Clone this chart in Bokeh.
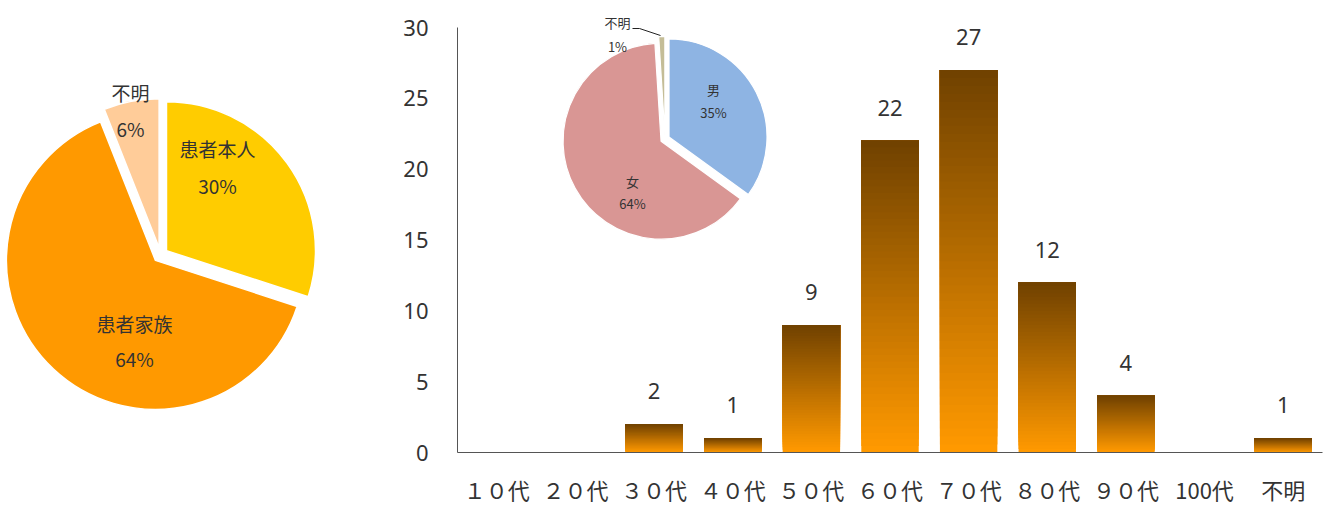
import math

from bokeh.core.properties import value
from bokeh.embed import file_html
from bokeh.layouts import row
from bokeh.models import FixedTicker, Label, Range1d
from bokeh.plotting import figure
from bokeh.resources import INLINE

# 相談者の内訳 (%)
caller_labels = ["患者本人", "患者家族", "不明"]
caller_pct = [30, 64, 6]
caller_colors = ["#FFCC00", "#FF9900", "#FFCC99"]

# 患者の性別 (%)
sex_labels = ["男", "女", "不明"]
sex_pct = [35, 64, 1]
sex_colors = ["#8EB4E3", "#D99694", "#C4BD97"]

# 年代別の人数
age_groups = ["１０代", "２０代", "３０代", "４０代", "５０代", "６０代",
              "７０代", "８０代", "９０代", "100代", "不明"]
age_counts = [0, 0, 2, 1, 9, 22, 27, 12, 4, 0, 1]
y_ticks = [0, 5, 10, 15, 20, 25, 30]
Y_MAX = 30

W, H = 1330, 507
PIE_W = 400
FRAME_TOP, AXIS_TOP, FRAME_BOTTOM = 8, 27, 452
CJK = "Noto Sans CJK JP"
TEXT_COLOR = "#333333"


def pie_wedges(pcts, cx, cy, explode):
    """Clockwise from 12 o'clock, every slice pulled out along its mid angle."""
    total = float(sum(pcts))
    start = math.pi / 2
    xs, ys, a0, a1 = [], [], [], []
    for v in pcts:
        end = start - 2 * math.pi * v / total
        mid = (start + end) / 2
        xs.append(cx + explode * math.cos(mid))
        ys.append(cy + explode * math.sin(mid))
        a0.append(end)
        a1.append(start)
        start = end
    return dict(x=xs, y=ys, start_angle=a0, end_angle=a1)


def gradient(t):
    """Orange at the bottom of a bar (t=0) to dark brown at its top (t=1)."""
    lo = (0xFF, 0x99, 0x00)
    hi = (0x6E, 0x40, 0x00)
    return "#%02x%02x%02x" % tuple(round(a + (b - a) * t) for a, b in zip(lo, hi))


def add_label(p, x, y, text, size, **kw):
    p.add_layout(Label(x=x, y=H - y, text=text, text_font=CJK, text_font_size=size,
                       text_align="center", text_baseline="middle",
                       text_color=TEXT_COLOR, **kw))


# ---------------- left: 相談者の内訳 ----------------
pie = figure(width=PIE_W, height=H, x_range=Range1d(0, PIE_W),
             y_range=Range1d(H - FRAME_BOTTOM, H - FRAME_TOP),
             x_axis_type=None, y_axis_type=None, output_backend="svg",
             toolbar_location=None, min_border_left=0, min_border_right=0,
             min_border_top=FRAME_TOP, min_border_bottom=H - FRAME_BOTTOM,
             outline_line_color=None)
pie.grid.visible = False

w = pie_wedges(caller_pct, 160, H - 254.5, 7.4)
w["color"] = caller_colors
pie.wedge(x="x", y="y", radius=149, radius_units="screen",
          start_angle="start_angle", end_angle="end_angle", direction="anticlock",
          fill_color="color", line_color="white", line_width=1.5, source=w)

caller_label_pos = [(217, 148, 185), (134, 323, 358), (130, 92, 128)]
for name, pct, (lx, ly1, ly2) in zip(caller_labels, caller_pct, caller_label_pos):
    add_label(pie, lx, ly1, name, "19px")
    add_label(pie, lx, ly2, "%d%%" % pct, "19px")

# ---------------- right: 年代別の人数 ----------------
# the frame reaches a little above the 30 line so the inset labels have room
n_groups = len(age_groups)
y_end = Y_MAX * (FRAME_BOTTOM - FRAME_TOP) / (FRAME_BOTTOM - AXIS_TOP)
bar = figure(width=W - PIE_W, height=H, x_range=Range1d(-0.5, n_groups - 0.5),
             y_range=Range1d(0, y_end), output_backend="svg", toolbar_location=None,
             min_border_left=57, min_border_right=8, min_border_top=FRAME_TOP,
             min_border_bottom=H - FRAME_BOTTOM, outline_line_color=None)
bar.grid.visible = False

# bars drawn as stacked bands so each one fades from orange to brown
N = 48
bx, bb, bt, bc = [], [], [], []
for k, c in enumerate(age_counts):
    if c == 0:
        continue
    for i in range(N):
        t = i / N
        bx.append(k)
        bb.append(c * t)
        bt.append(c)
        bc.append(gradient(t))
bar.vbar(x=bx, bottom=bb, top=bt, width=0.73, fill_color=bc, line_color=None)

lab_x = [k for k, c in enumerate(age_counts) if c > 0]
lab_y = [c for c in age_counts if c > 0]
bar.text(x=lab_x, y=lab_y, text=[str(c) for c in lab_y], y_offset=-33,
         text_font=value("Noto Sans"), text_font_size="22px", text_align="center",
         text_baseline="middle", text_color=TEXT_COLOR)

for ax in (bar.xaxis[0], bar.yaxis[0]):
    ax.axis_line_color = "#555555"
    ax.axis_line_width = 1
    ax.major_tick_line_color = None
    ax.minor_tick_line_color = None
    ax.major_label_text_color = TEXT_COLOR
    ax.major_label_text_font_size = "22px"
    ax.major_label_text_line_height = 1.0

bar.yaxis.ticker = FixedTicker(ticks=y_ticks)
bar.yaxis.bounds = (0, Y_MAX)
bar.yaxis.major_label_text_font = "Noto Sans"
bar.yaxis.major_label_standoff = 23
bar.xaxis.ticker = FixedTicker(ticks=list(range(n_groups)))
bar.xaxis.major_label_overrides = {k: g for k, g in enumerate(age_groups)}
bar.xaxis.major_label_text_font = CJK
bar.xaxis.major_label_standoff = 14

# inset pie: 患者の性別, placed in page pixel coordinates over the plot frame
bar.extra_x_ranges = {"px": Range1d(457, 1322)}
bar.extra_y_ranges = {"py": Range1d(H - FRAME_BOTTOM, H - FRAME_TOP)}
s = pie_wedges(sex_pct, 664.5, H - 138.5, 4.5)
s["color"] = sex_colors
bar.wedge(x="x", y="y", radius=98, radius_units="screen",
          start_angle="start_angle", end_angle="end_angle", direction="anticlock",
          fill_color="color", line_color="white", line_width=1.2, source=s,
          x_range_name="px", y_range_name="py")

sex_label_pos = [(713, 89, 112), (632, 181, 203), (617, 22, 46)]
for name, pct, (lx, ly1, ly2) in zip(sex_labels, sex_pct, sex_label_pos):
    add_label(bar, lx, ly1, name, "13px", x_range_name="px", y_range_name="py")
    add_label(bar, lx, ly2, "%d%%" % pct, "13px", x_range_name="px", y_range_name="py")

# leader from the 不明 label to its thin slice
bar.line(x=[632, 639, 660], y=[H - 28, H - 28, H - 35], line_color="#222222", line_width=1,
         x_range_name="px", y_range_name="py")

layout = row(pie, bar)
open("out.html", "w").write(file_html(layout, INLINE))
